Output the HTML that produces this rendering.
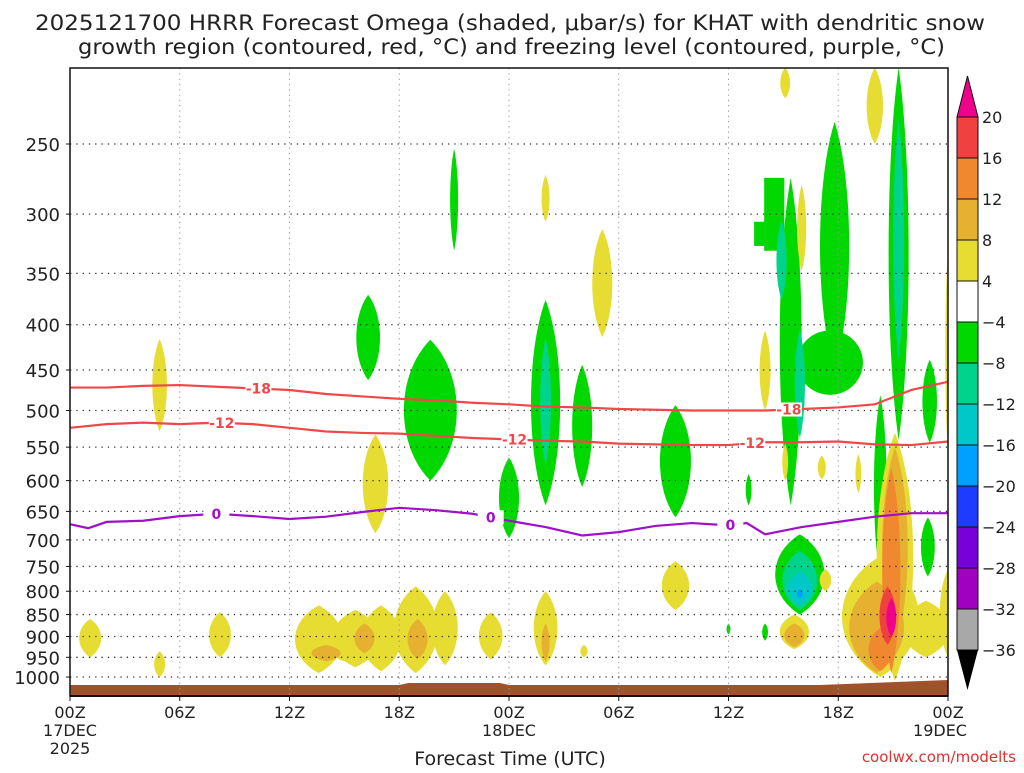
<!DOCTYPE html>
<html><head><meta charset="utf-8"><style>
body{margin:0;background:#fff;width:1024px;height:768px;overflow:hidden;font-family:"Liberation Sans",sans-serif}
svg text{font-family:"DejaVu Sans","Liberation Sans",sans-serif}
</style></head><body>
<svg id="c" width="1024" height="768" viewBox="0 0 1024 768">
<text x="35" y="30" font-size="21" textLength="950" lengthAdjust="spacingAndGlyphs" fill="#222">2025121700 HRRR Forecast Omega (shaded, μbar/s) for KHAT with dendritic snow</text>
<text x="78" y="54" font-size="21" textLength="867" lengthAdjust="spacingAndGlyphs" fill="#222">growth region (contoured, red, °C) and freezing level (contoured, purple, °C)</text>
<g id="shades"></g>
<g id="grid"></g>
<g id="lines"></g>
<g id="axes"></g>
<g id="cbar"></g>
<text x="510" y="765" font-size="19" text-anchor="middle" fill="#222">Forecast Time (UTC)</text>
<text x="1016" y="762" font-size="15" text-anchor="end" fill="#e03030">coolwx.com/modelts</text>
</svg>
<script>
const levels=[250,300,350,400,450,500,550,600,650,700,750,800,850,900,950,1000];
const xTickHours=[0,6,12,18,24,30,36,42,48];
const xTickLabels=["00Z","06Z","12Z","18Z","00Z","06Z","12Z","18Z","00Z"];
const cbLabels=["20","16","12","8","4","−4","−8","−12","−16","−20","−24","−28","−32","−36"];
const cbColors=["#f04040","#f08830","#e6b030","#e6dc32","#ffffff","#00d800","#00d48c","#00c8c8","#00a0ff","#1e3cff","#7800d8","#a000c0","#a8a8a8"];
const lvlColor={1:"#e6dc32",2:"#e6b030",3:"#f08830",4:"#f04040",5:"#f0008c",[-1]:"#00d800",[-2]:"#00d48c",[-3]:"#00c8c8",[-4]:"#00a0ff"};
const c18Hours=[0,2,4,6,8,10,12,14,16,18,20,22,24,26,28,30,32,34,36,38,40,42,44,46,48];
const c18P=[471,471,469,468,470,472,474,479,482,485,487,490,492,495,496,498,499,500,500,500,498,496,492,474,464];
const c12Hours=[0,2,4,6,8,10,12,14,16,18,20,22,24,26,28,30,32,34,36,38,40,42,44,46,48];
const c12P=[523,518,516,518,516,518,523,528,530,531,534,537,539,541,542,545,546,547,547,543,543,542,546,547,542];
const c0Hours=[0,1,2,4,6,8,10,12,14,16,18,20,22,24,26,28,30,32,34,36,37,38,40,42,44,46,48];
const c0P=[672,679,668,666,658,654,658,663,659,651,644,648,654,666,677,692,686,675,670,674,670,690,677,668,659,653,653];
// blobs: [hour, pTop, pBottom, halfWidthHours, level, shape(l=lens,r=rect,e=ellipse)]
const blobs=[
[1.1,860,950,0.6,1],[4.9,415,528,0.4,1],[4.9,935,1000,0.3,1],[8.2,845,950,0.6,1],
[13.6,830,990,1.3,1],[15.6,840,975,1.3,1],[17,830,985,1.1,1],[18.9,790,990,1.2,1],[20.5,800,970,0.7,1],[23,845,955,0.65,1],[26,800,970,0.65,1],[28.1,920,950,0.2,1],
[15.1,870,960,0.9,1,'e'],
[14,920,960,0.8,2],[16.1,870,940,0.55,2],[19,860,955,0.55,2],[26,870,960,0.22,2],
[16.7,532,688,0.7,1],[16.3,370,462,0.65,-1],[19.7,416,600,1.45,-1],[21,253,330,0.22,-1],[26,271,306,0.22,1],
[26,375,640,0.8,-1],[26,414,576,0.3,-2],[28,444,610,0.55,-1],[24,565,697,0.55,-1],[33.1,493,660,0.85,-1],[29.1,312,413,0.55,1],[33.1,740,840,0.75,1],
[39.1,205,222,0.27,1],[44,205,250,0.45,1],
[39.4,273,640,0.6,-1],[38.5,273,330,0.55,-1,'r'],[37.9,306,326,0.5,-1,'r'],[41.8,236,450,0.8,-1],[41.55,406,480,1.8,-1,'e'],[45.3,205,540,0.55,-1],[45.3,234,438,0.3,-2],[38.9,305,375,0.28,-2],[39.9,405,537,0.28,-2],[44.3,480,775,0.35,-1],
[40,278,348,0.25,1],[38,406,500,0.3,1],[41.1,562,598,0.22,1],[39.1,545,600,0.16,1],[43.1,560,620,0.16,1],
[47,438,544,0.4,-1],[46.9,660,770,0.38,-1],[37.1,590,640,0.16,-1],[36,870,895,0.11,-1],[38,870,910,0.16,-1],
[39.9,690,850,1.35,-1],[39.9,720,840,0.95,-2],[39.9,760,830,0.65,-3],[39.9,795,815,0.16,-4],
[39.6,850,930,0.8,1],[39.6,870,925,0.55,2],[41.3,755,800,0.32,1],
[44.3,730,1000,2.1,1],[45.1,530,1010,1.0,1],[46.8,820,950,1.3,1],[48,755,950,0.45,1],[48,330,560,0.15,1],
[44.1,780,990,1.5,2],[45.1,550,930,0.7,2],[44.9,580,990,0.5,3],[44.3,880,985,0.65,3],[44.7,790,920,0.45,4],[44.9,815,900,0.27,5]
];
const X0=70,X1=948,YT=68,YB=696;
const xs=h=>X0+h*(X1-X0)/48;
const ys=p=>144+384.5*Math.log(p/250);
const NS="http://www.w3.org/2000/svg";
function mk(tag,attrs,parent){const e=document.createElementNS(NS,tag);for(const k in attrs)e.setAttribute(k,attrs[k]);parent.appendChild(e);return e;}
const svg=document.getElementById('c');
const defs=mk('defs',{},svg);const cp=mk('clipPath',{id:'pc'},defs);mk('rect',{x:X0,y:YT,width:X1-X0,height:YB-YT},cp);
const sh=document.getElementById('shades');sh.setAttribute('clip-path','url(#pc)');
blobs.slice().sort((a,b)=>Math.abs(a[4])-Math.abs(b[4])).forEach(b=>{
 const x=xs(b[0]),t=ys(b[1]),bo=ys(b[2]),hw=b[3]*(X1-X0)/48,d=bo-t,shape=b[5]||'l';
 let p;
 if(shape==='r'){p=mk('rect',{x:x-hw,y:t,width:2*hw,height:d,fill:lvlColor[b[4]]},sh);}
 else if(shape==='e'){p=mk('ellipse',{cx:x,cy:(t+bo)/2,rx:hw,ry:d/2,fill:lvlColor[b[4]]},sh);}
 else{const w=hw*1.33;p=mk('path',{d:`M${x},${t} C${x-w},${t+d*0.25} ${x-w},${bo-d*0.25} ${x},${bo} C${x+w},${bo-d*0.25} ${x+w},${t+d*0.25} ${x},${t}Z`,fill:lvlColor[b[4]]},sh);}
 
 
});
const gr=mk('path',{d:`M${X0},${YB} L${X0},685 L${xs(18)},685 L${xs(18.5)},683 L${xs(23.5)},683 L${xs(24)},685 L${xs(41)},685 L${X1},680 L${X1},${YB}Z`,fill:'#a0522d'},sh);


const g=document.getElementById('grid');
levels.forEach(p=>{const l=mk('line',{x1:X0,x2:X1,y1:ys(p),y2:ys(p),stroke:'#333','stroke-width':1.3,'stroke-dasharray':'1.3 5'},g);
 
 });
xTickHours.slice(1,-1).forEach(h=>{const l=mk('line',{x1:xs(h),x2:xs(h),y1:YT,y2:YB,stroke:'#999','stroke-width':1,'stroke-dasharray':'1.3 4'},g);
 
 });
const L=document.getElementById('lines');L.setAttribute('clip-path','url(#pc)');
function contour(hs,ps,col,name){const pl=mk('polyline',{points:hs.map((h,i)=>xs(h)+','+ys(ps[i])).join(' '),fill:'none',stroke:col,'stroke-width':2.2},L);
 
 }
contour(c18Hours,c18P,'#f04848','contour-minus18');
contour(c12Hours,c12P,'#f04848','contour-minus12');
contour(c0Hours,c0P,'#a010c8','freezing-level-0');
function clabel(h,arrH,arrP,txt,col){let i=0;while(i<arrH.length-2&&arrH[i+1]<h)i++;const f=(h-arrH[i])/(arrH[i+1]-arrH[i]);const p=arrP[i]+f*(arrP[i+1]-arrP[i]);
 const x=xs(h),y=ys(p);mk('rect',{x:x-13,y:y-7,width:26,height:14,fill:'#fff'},L);
 const t=mk('text',{x:x,y:y+5,'font-size':14,'font-weight':'bold','text-anchor':'middle',fill:col},L);t.textContent=txt;
 
 }
clabel(10.3,c18Hours,c18P,'-18','#f04848');clabel(39.3,c18Hours,c18P,'-18','#f04848');
clabel(8.3,c12Hours,c12P,'-12','#f04848');clabel(24.3,c12Hours,c12P,'-12','#f04848');clabel(37.3,c12Hours,c12P,'-12','#f04848');
clabel(8,c0Hours,c0P,'0','#a010c8');clabel(23,c0Hours,c0P,'0','#a010c8');clabel(36.1,c0Hours,c0P,'0','#a010c8');
const A=document.getElementById('axes');
mk('rect',{x:X0,y:YT,width:X1-X0,height:YB-YT,fill:'none',stroke:'#111','stroke-width':1.5},A);
mk('line',{x1:X0,x2:X1,y1:YB,y2:YB,stroke:'#111','stroke-width':2},A);
levels.forEach(p=>{const t=mk('text',{x:60,y:ys(p)+7,'font-size':18,'text-anchor':'end',fill:'#222'},A);t.textContent=p;
 
 
 mk('line',{x1:X0-4,x2:X0,y1:ys(p),y2:ys(p),stroke:'#111'},A);});
xTickHours.forEach((h,i)=>{mk('line',{x1:xs(h),x2:xs(h),y1:YB,y2:YB+5,stroke:'#111'},A);
 const t=mk('text',{x:xs(h),y:718,'font-size':16,'text-anchor':'middle',fill:'#222'},A);t.textContent=xTickLabels[i];
 
 });
[["17DEC",xs(0),736],["2025",xs(0),754],["18DEC",xs(24),736],["19DEC",xs(48)-8,736]].forEach(a=>{const t=mk('text',{x:a[1],y:a[2],'font-size':16,'text-anchor':'middle',fill:'#222'},A);t.textContent=a[0];
 
 });
const C=document.getElementById('cbar');const cx0=957,cx1=978,cy0=117,step=41;
mk('path',{d:`M${cx0},${cy0} L${(cx0+cx1)/2},76 L${cx1},${cy0}Z`,fill:'#f0008c',stroke:'#111'},C);
cbColors.forEach((col,i)=>{const r=mk('rect',{x:cx0,y:cy0+i*step,width:cx1-cx0,height:step,fill:col,stroke:'#111','stroke-width':1},C);
 
 });
const cb=cy0+cbColors.length*step;
mk('path',{d:`M${cx0},${cb} L${(cx0+cx1)/2},690 L${cx1},${cb}Z`,fill:'#000'},C);
cbLabels.forEach((s,i)=>{const t=mk('text',{x:982,y:cy0+i*step+6,'font-size':16,fill:'#222'},C);t.textContent=s;
 
 });
</script>
</body></html>
